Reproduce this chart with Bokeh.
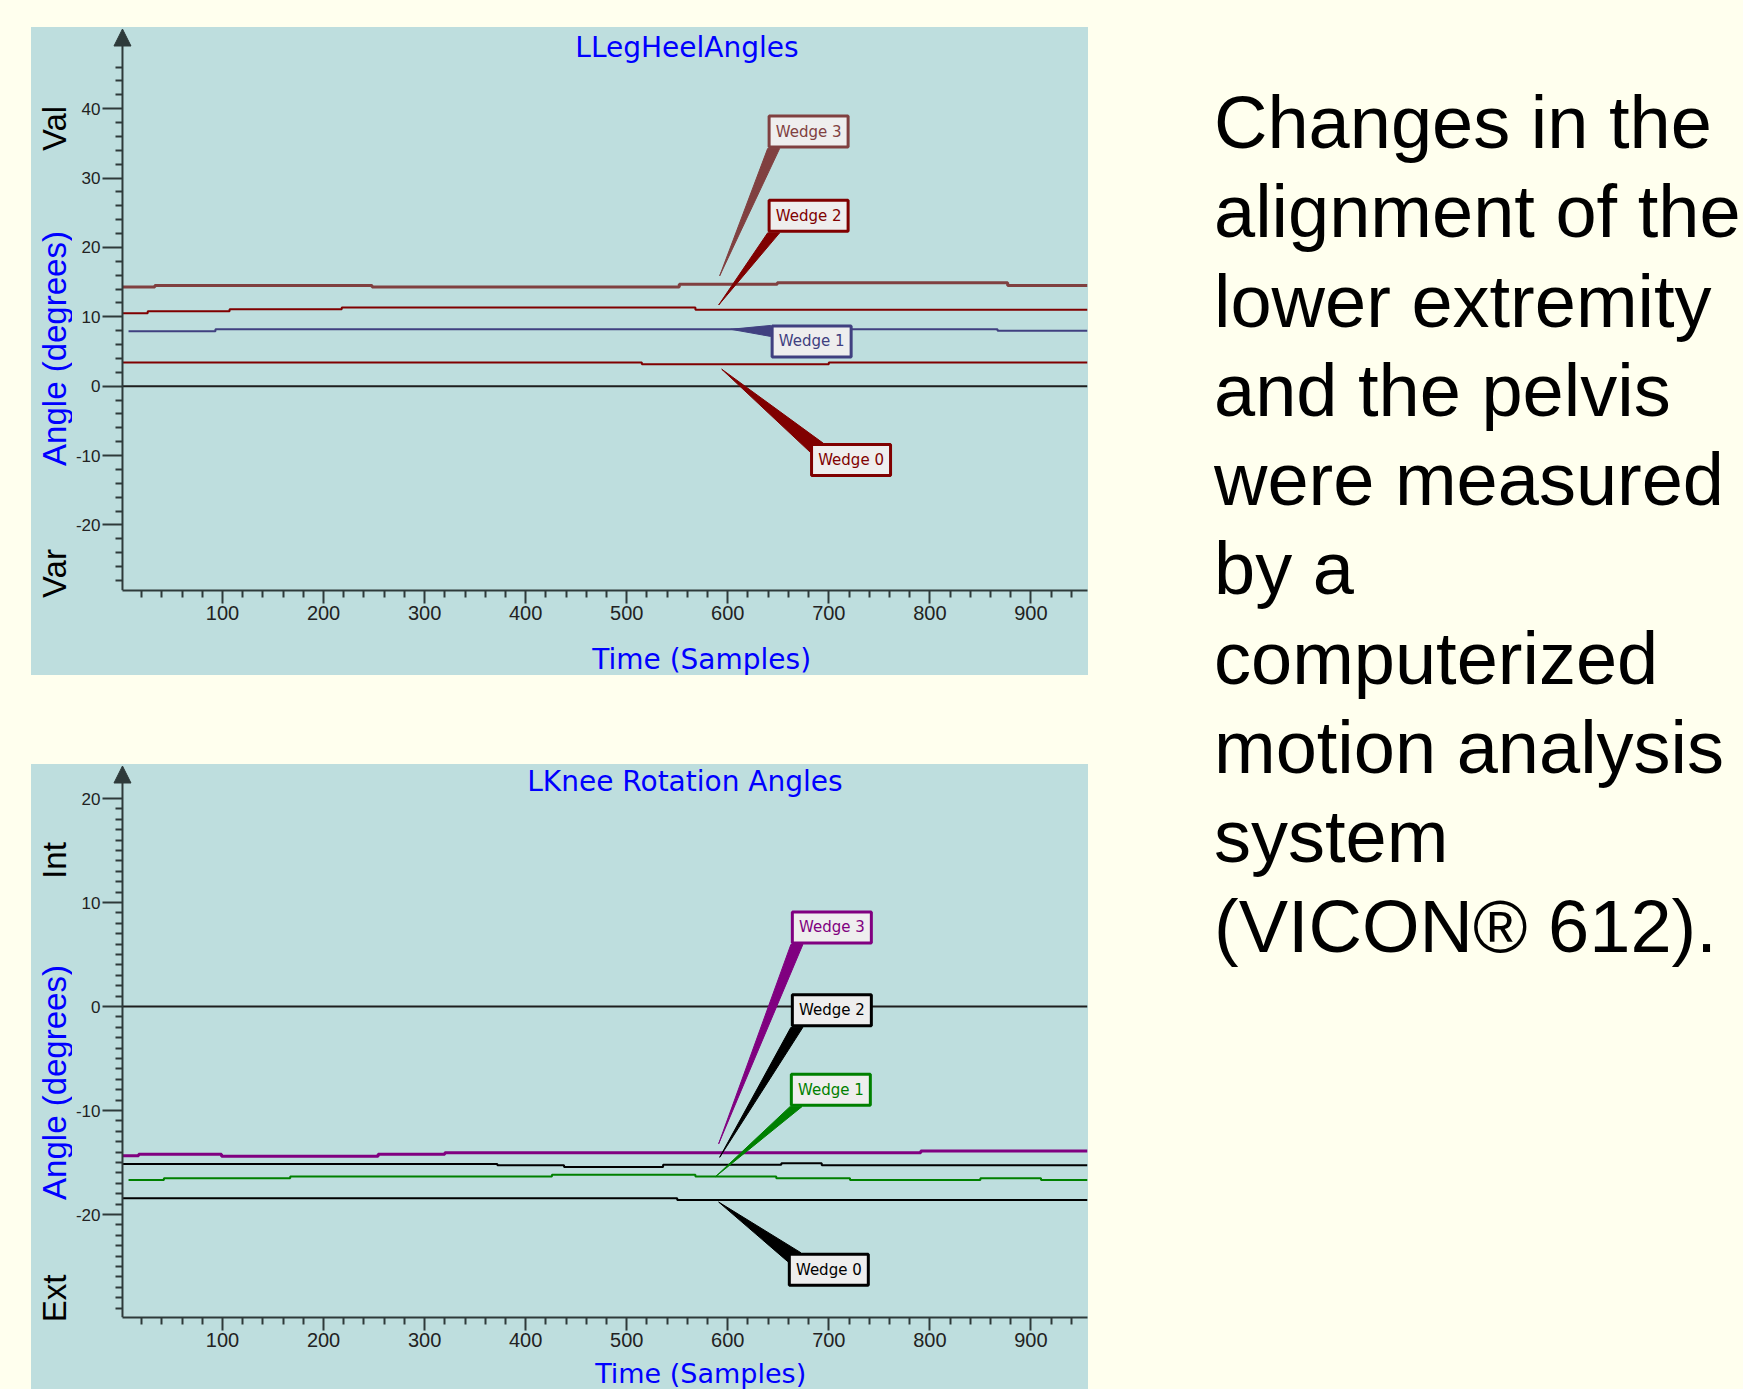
from bokeh.plotting import figure
from bokeh.models import (Range1d, FixedTicker, Label, Arrow, NormalHead,
                          ColumnDataSource, Div, Spacer, CustomJS, PrintfTickFormatter)
from bokeh.layouts import row, column
from bokeh.core.properties import value
from bokeh.document import Document
from bokeh.embed import file_html
from bokeh.resources import INLINE

# ---------------- data ----------------
samples_range = [1, 956]
heel_range = [-29.45, 51.7]
knee_range = [-29.9, 23.27]

x_major = [100, 200, 300, 400, 500, 600, 700, 800, 900]
x_minor = [v for v in range(20, 960, 20) if v % 100 != 0]
heel_y_major = [-20, -10, 0, 10, 20, 30, 40]
heel_y_minor = [v for v in range(-28, 47, 2) if v % 10 != 0]
knee_y_major = [-20, -10, 0, 10, 20]
knee_y_minor = [v for v in range(-29, 20) if v % 10 != 0]

# LLegHeelAngles: step breakpoints (samples) and levels (degrees)
heel_w3_x = [1, 33, 248, 552, 649, 877, 956]
heel_w3_y = [14.3, 14.5, 14.3, 14.7, 14.9, 14.5]
heel_w2_x = [1, 26, 107, 218, 568, 956]
heel_w2_y = [10.5, 10.8, 11.1, 11.35, 11.0]
heel_w1_x = [7, 93, 867, 956]
heel_w1_y = [7.9, 8.2, 8.0]
heel_w0_x = [1, 515, 700, 956]
heel_w0_y = [3.4, 3.15, 3.4]

# LKnee Rotation Angles
knee_w3_x = [1, 17, 99, 254, 320, 791, 956]
knee_w3_y = [-14.35, -14.2, -14.4, -14.2, -14.05, -13.9]
knee_w2_x = [1, 372, 438, 536, 653, 693, 956]
knee_w2_y = [-15.13, -15.26, -15.43, -15.22, -15.07, -15.26]
knee_w1_x = [7, 42, 167, 426, 568, 648, 721, 850, 910, 956]
knee_w1_y = [-16.67, -16.5, -16.35, -16.18, -16.35, -16.5, -16.67, -16.5, -16.67]
knee_w0_x = [1, 550, 956]
knee_w0_y = [-18.43, -18.6]

wedge_names = ["Wedge 3", "Wedge 2", "Wedge 1", "Wedge 0"]
heel_colors = ["#804040", "#800000", "#404080", "#800000"]
knee_colors = ["#800080", "#000000", "#008000", "#000000"]
# callout pointer tips (sample, degrees) and label box centres (sample, degrees)
heel_tip_x = [592, 591, 603, 594]
heel_tip_y = [15.9, 11.7, 8.2, 2.45]
heel_box_x = [680, 680, 683, 722]
heel_box_y = [36.7, 24.55, 6.45, -10.65]
heel_side = ["bottom", "bottom", "left", "top"]
knee_tip_x = [591, 592, 588, 591]
knee_tip_y = [-13.2, -14.5, -16.35, -18.8]
knee_box_x = [703, 703, 702, 700]
knee_box_y = [7.6, -0.37, -8.0, -25.3]
knee_side = ["bottom", "bottom", "bottom", "top"]

text_lines = ["Changes in the", "alignment of the", "lower extremity", "and the pelvis",
              "were measured", "by a", "computerized", "motion analysis", "system",
              "(VICON\u00ae 612)."]

# ---------------- styles / layout ----------------
PAGE_BG = "#FFFFEE"
PANEL_BG = "#BEDEDE"
AXIS_COLOR = "#2E3A3A"
BLUE = "#0000FF"
BOX_FILL = "#EEEEEE"

PANEL_X = 31          # panel left edge on page
PANEL_R = 1088        # panel right edge on page
STRIP_W = 41          # left strip holding the vertical side texts
MAIN_BL = 29          # main figure left border (tick labels)
AXIS_PAD = 20         # px between frame edge and the drawn y axis
MAIN_W = PANEL_R - PANEL_X - STRIP_W
ROT = 1.5707963
BG_STYLE = {"background-color": PANEL_BG}


def strip_figure(width, height):
    s = figure(width=width, height=height, output_backend="svg", toolbar_location=None,
               title=None, x_range=Range1d(0, width), y_range=Range1d(0, height),
               x_axis_type=None, y_axis_type=None, min_border=0,
               min_border_left=0, min_border_right=0, min_border_top=0,
               min_border_bottom=0,
               background_fill_color=PANEL_BG, border_fill_color=PANEL_BG,
               outline_line_color=None, styles=BG_STYLE)
    return s


def build_panel(panel_top, panel_h, main_h, border_bottom, y_range, y_major, y_minor,
                series, colors, tip_x, tip_y, box_x, box_y, sides,
                title, xlabel_xy, side_texts):
    p = figure(width=MAIN_W, height=main_h, output_backend="svg", toolbar_location=None,
               title=None,
               min_border_left=MAIN_BL, min_border_right=1, min_border_top=0,
               min_border_bottom=border_bottom, background_fill_color=PANEL_BG,
               border_fill_color=PANEL_BG, outline_line_color=None, styles=BG_STYLE)
    frame_w = MAIN_W - MAIN_BL - 1
    frame_h = main_h - border_bottom
    sx = (frame_w - AXIS_PAD) / (samples_range[1] - samples_range[0])
    sy = frame_h / (y_range[1] - y_range[0])
    p.x_range = Range1d(samples_range[0] - AXIS_PAD / sx, samples_range[1])
    p.y_range = Range1d(y_range[0], y_range[1])
    axis_page_x = PANEL_X + STRIP_W + MAIN_BL + AXIS_PAD

    def dx(px):
        return samples_range[0] + (px - axis_page_x) / sx

    def dy(py):
        return y_range[1] - (py - panel_top) / sy

    p.xgrid.visible = False
    p.ygrid.visible = False

    xa = p.xaxis[0]
    xa.ticker = FixedTicker(ticks=x_major, minor_ticks=x_minor)
    xa.formatter = PrintfTickFormatter(format="%d")
    xa.bounds = (samples_range[0], samples_range[1])
    ya = p.yaxis[0]
    ya.ticker = FixedTicker(ticks=y_major, minor_ticks=y_minor)
    ya.formatter = PrintfTickFormatter(format="%d")
    for ax in (xa, ya):
        ax.axis_line_color = AXIS_COLOR
        ax.axis_line_width = 2
        ax.major_tick_line_color = AXIS_COLOR
        ax.major_tick_line_width = 2
        ax.minor_tick_line_color = AXIS_COLOR
        ax.minor_tick_line_width = 2
        ax.major_label_text_font = "Liberation Sans"
        ax.major_label_text_color = "#222222"
        ax.axis_label_standoff = 0
    xa.major_tick_in = 0
    xa.minor_tick_in = 0
    xa.major_tick_out = 13
    xa.minor_tick_out = 7
    xa.major_label_standoff = 2
    xa.major_label_text_font_size = "20px"
    # y axis drawn AXIS_PAD px inside the frame
    ya.axis_line_color = None
    ya.major_tick_in = AXIS_PAD
    ya.major_tick_out = 0
    ya.minor_tick_in = AXIS_PAD
    ya.minor_tick_out = 7 - AXIS_PAD
    ya.major_label_standoff = 2
    ya.major_label_text_font_size = "17px"

    # zero reference line
    p.line(x=samples_range, y=[0, 0], line_color="#1E1E1E", line_width=2)

    for xs, ys, color, lw in series:
        p.step(x=xs, y=ys + [ys[-1]], mode="after", line_color=color, line_width=lw)

    # callouts
    bw, bh, blw = 79, 31, 3
    for color, tx, ty, bx, by, side in zip(colors, tip_x, tip_y, box_x, box_y, sides):
        hw = (bw + blw) / 2 / sx
        hh = (bh + blw) / 2 / sy
        left, bottom, top = bx - hw, by - hh, by + hh
        if side == "bottom":
            b1 = (left, bottom)
            b2 = (left + 12 / sx, bottom)
        elif side == "top":
            b1 = (left, top - 9 / sy)
            b2 = (left + 13 / sx, top)
        else:
            b1 = (left, top - 1 / sy)
            b2 = (left, top - 12 / sy)
        p.patch(x=[tx, b1[0], b2[0]], y=[ty, b1[1], b2[1]], fill_color=color,
                line_color=color, line_width=1)
    src = ColumnDataSource(dict(x=box_x, y=box_y, name=wedge_names, color=colors))
    p.rect(x="x", y="y", width=bw, height=bh, width_units="screen",
           height_units="screen", fill_color=BOX_FILL, line_color="color",
           line_width=blw, source=src)
    p.text(x="x", y="y", text="name", text_color="color", text_align="center",
           text_baseline="middle", text_font=value("DejaVu Sans"),
           text_font_size="15px", source=src)

    # y axis line with arrow head
    p.add_layout(Arrow(end=NormalHead(size=17, fill_color=AXIS_COLOR,
                                      line_color=AXIS_COLOR, line_width=1),
                       x_start=samples_range[0], x_end=samples_range[0],
                       y_start=y_range[0], y_end=dy(panel_top + 1.5),
                       line_color=AXIS_COLOR, line_width=2))

    # chart title inside the plot area
    p.add_layout(Label(x=dx(title[1]), y=dy(title[2]), text=title[0], text_color=BLUE,
                       text_font="DejaVu Sans", text_font_size="28px",
                       text_align="center", text_baseline="middle"))

    # left strip: vertical side texts
    left = strip_figure(STRIP_W, panel_h)
    for text, px, py, color, size in side_texts:
        left.text(x=[px - PANEL_X], y=[panel_top + panel_h - py], text=[text],
                  angle=ROT, text_color=color, text_font=value("Liberation Sans"),
                  text_font_size=size, text_align="center", text_baseline="middle")

    # bottom strip: x axis title
    bottom_h = panel_h - main_h
    bottom = strip_figure(MAIN_W, bottom_h)
    strip_x0 = PANEL_X + STRIP_W
    strip_top = panel_top + main_h
    bottom.text(x=[xlabel_xy[0] - strip_x0], y=[strip_top + bottom_h - xlabel_xy[1]],
                text=["Time (Samples)"], text_color=BLUE,
                text_font=value("DejaVu Sans"), text_font_size=xlabel_xy[2],
                text_align="center", text_baseline="middle")

    return row(left, column(p, bottom, spacing=0, styles=BG_STYLE),
               spacing=0, styles=BG_STYLE)


heel_series = [
    (heel_w0_x, heel_w0_y, heel_colors[3], 2),
    (heel_w1_x, heel_w1_y, heel_colors[2], 2),
    (heel_w2_x, heel_w2_y, heel_colors[1], 2),
    (heel_w3_x, heel_w3_y, heel_colors[0], 3),
]
heel_side_texts = [
    ("Angle (degrees)", 53.5, 348, BLUE, "33px"),
    ("Val", 53.5, 128, "#000000", "33px"),
    ("Var", 53.5, 573, "#000000", "33px"),
]
heel_panel = build_panel(27, 648, 603, 40, heel_range, heel_y_major, heel_y_minor,
                         heel_series, heel_colors, heel_tip_x, heel_tip_y, heel_box_x,
                         heel_box_y, heel_side, ("LLegHeelAngles", 686, 47),
                         (690, 659, "28px"), heel_side_texts)

knee_series = [
    (knee_w0_x, knee_w0_y, knee_colors[3], 2),
    (knee_w1_x, knee_w1_y, knee_colors[2], 2),
    (knee_w2_x, knee_w2_y, knee_colors[1], 2),
    (knee_w3_x, knee_w3_y, knee_colors[0], 3),
]
knee_side_texts = [
    ("Angle (degrees)", 53.5, 1082, BLUE, "33px"),
    ("Int", 53.5, 860, "#000000", "33px"),
    ("Ext", 53.5, 1298, "#000000", "33px"),
]
knee_panel = build_panel(764, 625, 593, 40, knee_range, knee_y_major, knee_y_minor,
                         knee_series, knee_colors, knee_tip_x, knee_tip_y, knee_box_x,
                         knee_box_y, knee_side, ("LKnee Rotation Angles", 684, 781),
                         (689, 1373, "27px"), knee_side_texts)

TEXT_X = 1214
text_html = ('<div style="font-family: \'Liberation Sans\', Arial, sans-serif; '
             'font-size: 74px; line-height: 89.3px; color: #000000; white-space: nowrap;">'
             + "<br>".join(text_lines) + "</div>")
text_div = Div(text=text_html, width=1743 - TEXT_X, height=900, margin=0)

left_col = column(Spacer(width=PANEL_R - PANEL_X, height=27), heel_panel,
                  Spacer(width=PANEL_R - PANEL_X, height=89), knee_panel, spacing=0)
right_col = column(Spacer(width=1743 - TEXT_X, height=78), text_div, spacing=0)
p = row(Spacer(width=PANEL_X, height=1389), left_col,
        Spacer(width=TEXT_X - PANEL_R, height=1389), right_col,
        spacing=0, styles={"background-color": PAGE_BG})

doc = Document()
doc.add_root(p)
doc.js_on_event("document_ready",
                CustomJS(code="document.body.style.backgroundColor = '%s';" % PAGE_BG))

open("out.html", "w").write(file_html(p, INLINE))
